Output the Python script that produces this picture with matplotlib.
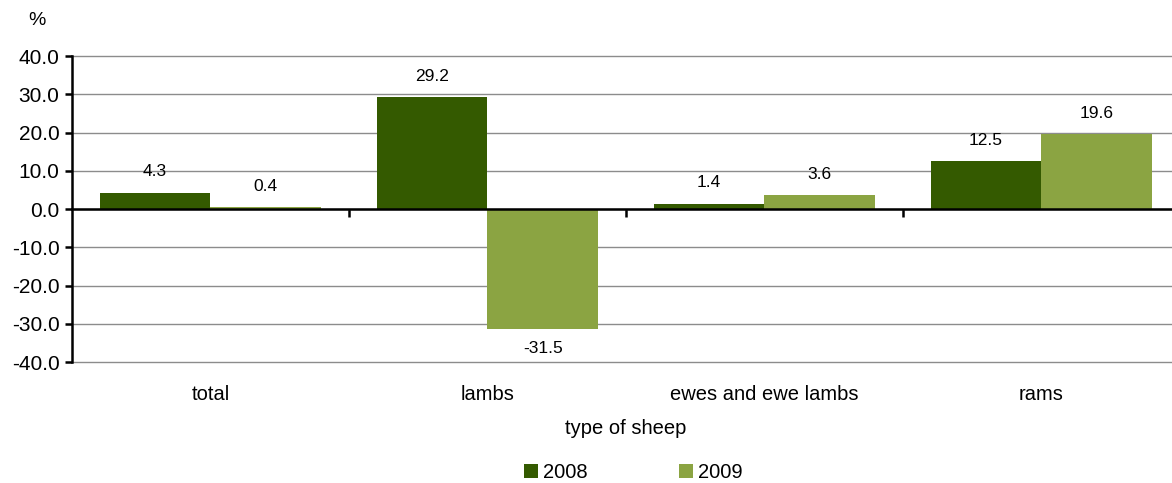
import numpy as np
import matplotlib.pyplot as plt

plt.rcParams['font.family'] = ['Liberation Sans', 'DejaVu Sans']

categories = ['total', 'lambs', 'ewes and ewe lambs', 'rams']
values_2008 = [4.3, 29.2, 1.4, 12.5]
values_2009 = [0.4, -31.5, 3.6, 19.6]
series_names = ['2008', '2009']
colors = ['#345a00', '#8ba442']

fig = plt.figure(figsize=(11.72, 4.83), dpi=100)
ax = fig.add_axes([0.0614, 0.2505, 0.9454, 0.6335])

x = np.arange(len(categories))
w = 0.4
for vals, off, name, c in [(values_2008, -w / 2, series_names[0], colors[0]),
                           (values_2009, w / 2, series_names[1], colors[1])]:
    bars = ax.bar(x + off, vals, width=w, color=c, label=name, zorder=3)
    for b, v in zip(bars, vals):
        dy = 15 if v >= 0 else -14
        ax.annotate(f'{v:.1f}', (b.get_x() + b.get_width() / 2, v), xytext=(0, dy),
                    textcoords='offset points', ha='center', va='center', fontsize=12.5)

ax.set_xlim(-0.5, len(categories) - 0.5)
ax.set_ylim(-40, 40)
ax.set_yticks(np.arange(-40, 41, 10))
ax.set_yticklabels([f'{t:.1f}' for t in np.arange(-40, 41, 10)], fontsize=15)
ax.yaxis.grid(True, color='#8c8c8c', linewidth=1)
for gl in ax.get_ygridlines():
    gl.set_clip_on(False)
ax.set_axisbelow(True)

for s in ['top', 'right']:
    ax.spines[s].set_visible(False)
ax.spines['bottom'].set_position(('data', 0))
ax.spines['bottom'].set_linewidth(1.8)
ax.spines['bottom'].set_zorder(4)
ax.spines['left'].set_linewidth(1.8)
ax.tick_params(axis='y', length=5, width=1.8, pad=4)
ax.set_xticks(np.arange(len(categories) - 1) + 0.5)
ax.set_xticklabels([])
ax.tick_params(axis='x', length=6, width=1.8, direction='out')

for xi, cat in zip(x, categories):
    ax.text(xi, -48.5, cat, ha='center', va='center', fontsize=14.5)
ax.text(1.5, -57.5, 'type of sheep', ha='center', va='center', fontsize=14.5)
ax.text(-0.626, 49.4, '%', ha='center', va='center', fontsize=14, clip_on=False)

fig.legend(loc='center', bbox_to_anchor=(0.5405, 0.022), ncol=2, frameon=False,
           fontsize=14.5, handlelength=0.7, handleheight=0.7, handletextpad=0.25,
           columnspacing=4.55)

fig.savefig('out.png', dpi=100)
